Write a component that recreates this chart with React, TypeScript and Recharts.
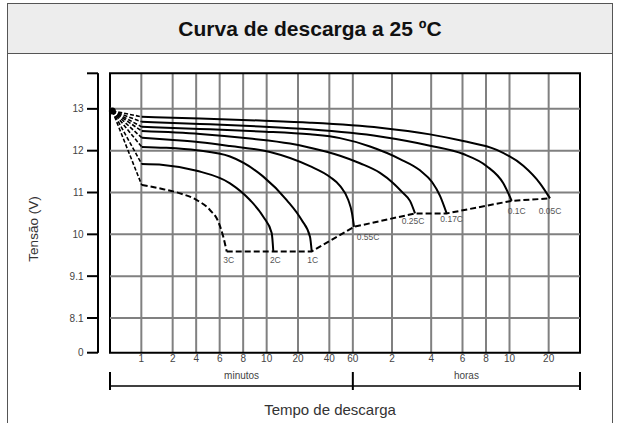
import React from 'react';
import {
  ComposedChart,
  Line,
  XAxis,
  YAxis,
  CartesianGrid,
  ReferenceLine,
  ReferenceArea,
  ReferenceDot,
  Scatter,
  Label,
} from 'recharts';

// ---------- axis definitions (grid units of the original drawing) ----------
const X_MIN = 0;
const X_MAX = 60;
const xTickGrid = [4, 8, 11, 14, 17, 20, 24, 28, 31, 36, 41, 45, 48, 51, 56];
const xTickLabels = ['1', '2', '4', '6', '8', '10', '20', '40', '60', '2', '4', '6', '8', '10', '20'];

const Y_MIN = 7.17;
const Y_MAX = 13.85;
const yTickValues = [Y_MIN, 8, 9, 10, 11, 12, 13, Y_MAX];
const yTickLabels = ['0', '8.1', '9.1', '10', '11', '12', '13', ''];
const yGridValues = [8, 9, 10, 11, 12, 13];

const spanBounds = [0, 31, 60];
const spanLabelAt = [16.8, 45.5];
const spanLabels = ['minutos', 'horas'];

// ---------- data ----------
const origin = { x: 0.3, y: 12.95 };

const c3C = [
  { x: 4.05, y: 11.18 }, { x: 6.8, y: 11.08 }, { x: 8.94, y: 10.98 }, { x: 11.07, y: 10.82 },
  { x: 12.77, y: 10.58 }, { x: 13.83, y: 10.3 }, { x: 14.46, y: 9.94 }, { x: 14.9, y: 9.59 },
];
const c2C = [
  { x: 4.05, y: 11.68 }, { x: 6.8, y: 11.66 }, { x: 11.07, y: 11.52 }, { x: 15.32, y: 11.22 },
  { x: 17.87, y: 10.82 }, { x: 19.57, y: 10.42 }, { x: 20.64, y: 10.03 }, { x: 20.85, y: 9.59 },
];
const c1C = [
  { x: 4.05, y: 12.09 }, { x: 7.02, y: 12.07 }, { x: 11.07, y: 12.01 }, { x: 15.32, y: 11.86 },
  { x: 19.57, y: 11.38 }, { x: 22.56, y: 10.82 }, { x: 24.47, y: 10.34 }, { x: 25.53, y: 9.94 },
  { x: 25.75, y: 9.59 },
];
const c055C = [
  { x: 4.05, y: 12.31 }, { x: 7.66, y: 12.26 }, { x: 11.49, y: 12.2 }, { x: 15.32, y: 12.11 },
  { x: 20.43, y: 11.97 }, { x: 25.53, y: 11.63 }, { x: 28.09, y: 11.37 }, { x: 29.36, y: 11.16 },
  { x: 30.42, y: 10.82 }, { x: 30.89, y: 10.51 }, { x: 31.15, y: 10.18 },
];
const c025C = [
  { x: 4.05, y: 12.47 }, { x: 11.49, y: 12.4 }, { x: 17.87, y: 12.29 }, { x: 22.98, y: 12.17 },
  { x: 25.53, y: 12.07 }, { x: 29.36, y: 11.88 }, { x: 31.91, y: 11.7 }, { x: 34.47, y: 11.47 },
  { x: 36.13, y: 11.23 }, { x: 37.4, y: 10.99 }, { x: 38.3, y: 10.8 }, { x: 38.94, y: 10.5 },
];
const c017C = [
  { x: 4.05, y: 12.57 }, { x: 11.49, y: 12.52 }, { x: 19.15, y: 12.46 }, { x: 25.53, y: 12.39 },
  { x: 29.36, y: 12.3 }, { x: 33.19, y: 12.1 }, { x: 37.02, y: 11.8 }, { x: 39.57, y: 11.53 },
  { x: 41.11, y: 11.25 }, { x: 42.13, y: 10.92 }, { x: 42.98, y: 10.5 },
];
const c01C = [
  { x: 4.05, y: 12.69 }, { x: 11.49, y: 12.64 }, { x: 19.15, y: 12.58 }, { x: 25.53, y: 12.51 },
  { x: 34.47, y: 12.34 }, { x: 40.85, y: 12.12 }, { x: 45.1, y: 11.92 }, { x: 48.09, y: 11.63 },
  { x: 50.21, y: 11.22 }, { x: 51.28, y: 10.8 },
];
const c005C = [
  { x: 4.05, y: 12.81 }, { x: 11.49, y: 12.77 }, { x: 19.15, y: 12.72 }, { x: 25.53, y: 12.67 },
  { x: 34.47, y: 12.55 }, { x: 40.85, y: 12.39 }, { x: 45.1, y: 12.23 }, { x: 49.37, y: 12.02 },
  { x: 52.76, y: 11.64 }, { x: 54.89, y: 11.22 }, { x: 56.17, y: 10.86 },
];

const curveNames = ['3C', '2C', '1C', '0.55C', '0.25C', '0.17C', '0.1C', '0.05C'];
const curveData = [c3C, c2C, c1C, c055C, c025C, c017C, c01C, c005C];

// ---------- styling ----------
const FONT = "'Liberation Sans', Arial, Helvetica, sans-serif";
const dashedCurves = ['3C'];
const labelOffset: Record<string, [number, number]> = {
  '3C': [2, 9], '2C': [2, 9], '1C': [1, 9], '0.55C': [14, 10],
  '0.25C': [-2, 8], '0.17C': [5, 6], '0.1C': [5, 10], '0.05C': [0, 13],
};
const PLOT_LEFT = 110;
const PLOT_RIGHT = 580;
const PX_PER_UNIT = (PLOT_RIGHT - PLOT_LEFT) / (X_MAX - X_MIN);

const endPoints = curveData.map((pts, i) => ({ ...pts[pts.length - 1], name: curveNames[i] }));

function SpanTick(props: any) {
  const { x, y, payload } = props;
  const v = payload.value;
  const bi = spanBounds.indexOf(v);
  if (bi >= 0) {
    return (
      <g>
        <line x1={x} x2={x} y1={y - 14} y2={y + 4} stroke="#000" strokeWidth={2} />
        {bi === 0 && (
          <line
            x1={x}
            x2={x + (spanBounds[spanBounds.length - 1] - v) * PX_PER_UNIT}
            y1={y}
            y2={y}
            stroke="#000"
            strokeWidth={1.6}
          />
        )}
      </g>
    );
  }
  const li = spanLabelAt.indexOf(v);
  return (
    <text x={x} y={y - 7} textAnchor="middle" fontSize={10} fill="#444" fontFamily={FONT}>
      {spanLabels[li]}
    </text>
  );
}

function EndLabel(props: any) {
  const { cx, cy, payload } = props;
  const [dx, dy] = labelOffset[payload.name] || [0, 9];
  return (
    <text
      x={cx + dx}
      y={cy + dy}
      textAnchor="middle"
      dominantBaseline="central"
      fontSize={8.5}
      fill="#555"
      fontFamily={FONT}
    >
      {payload.name}
    </text>
  );
}

export default function App() {
  return (
    <div
      style={{
        position: 'absolute',
        left: 0,
        top: 0,
        width: 620,
        height: 423,
        background: '#fff',
        overflow: 'hidden',
        fontFamily: FONT,
      }}
    >
      <div
        style={{
          position: 'absolute',
          left: 7,
          top: 3,
          width: 606,
          height: 440,
          border: '1.5px solid #555',
          boxSizing: 'border-box',
        }}
      />
      <div
        style={{
          position: 'absolute',
          left: 7,
          top: 3,
          width: 606,
          height: 51,
          background: '#ededed',
          border: '1.5px solid #555',
          boxSizing: 'border-box',
          display: 'flex',
          alignItems: 'center',
          justifyContent: 'center',
          fontWeight: 'bold',
          fontSize: 21,
          color: '#111',
        }}
      >
        Curva de descarga a 25 ºC
      </div>
      <div style={{ position: 'absolute', left: 0, top: 0 }}>
        <ComposedChart width={620} height={423} margin={{ top: 73.3, right: 40, bottom: 0, left: 20 }}>
          <CartesianGrid xAxisId="a" yAxisId="v" horizontal={false} stroke="#808080" strokeWidth={2} />
          <XAxis
            xAxisId="b"
            type="number"
            dataKey="x"
            domain={[X_MIN, X_MAX]}
            ticks={[...spanBounds, ...spanLabelAt].sort((p, q) => p - q)}
            interval={0}
            padding={{ left: 12, right: 0 }}
            axisLine={false}
            tickLine={false}
            tickSize={0}
            tickMargin={0}
            height={37}
            tick={<SpanTick />}
            allowDataOverflow
          >
            <Label
              content={(p: any) => (
                <text
                  x={p.viewBox.x + 232}
                  y={p.viewBox.y + 29}
                  textAnchor="middle"
                  fontSize={15}
                  fill="#333"
                  fontFamily={FONT}
                >
                  Tempo de descarga
                </text>
              )}
            />
          </XAxis>
          <XAxis
            xAxisId="a"
            type="number"
            dataKey="x"
            domain={[X_MIN, X_MAX]}
            ticks={xTickGrid}
            interval={0}
            padding={{ left: 12, right: 0 }}
            tickFormatter={(v: number) => xTickLabels[xTickGrid.indexOf(v)]}
            axisLine={false}
            tickLine={false}
            tickSize={0}
            tickMargin={2}
            height={33.3}
            tick={{ fill: '#444', fontSize: 10, fontFamily: FONT }}
            allowDataOverflow
          />
          <YAxis
            yAxisId="v"
            type="number"
            dataKey="y"
            domain={[Y_MIN, Y_MAX]}
            ticks={yTickValues}
            interval={0}
            width={78}
            tickFormatter={(v: number) => yTickLabels[yTickValues.indexOf(v)]}
            axisLine={{ stroke: '#000', strokeWidth: 2 }}
            tickLine={{ stroke: '#000', strokeWidth: 2 }}
            tickSize={11}
            tickMargin={3.5}
            tick={{ fill: '#444', fontSize: 10, fontFamily: FONT }}
            allowDataOverflow
          >
            <Label
              content={() => (
                <text
                  x={38}
                  y={229}
                  transform="rotate(-90 38 229)"
                  textAnchor="middle"
                  fontSize={13.5}
                  fill="#333"
                  fontFamily={FONT}
                >
                  Tensão (V)
                </text>
              )}
            />
          </YAxis>
          {yGridValues.map((v) => (
            <ReferenceLine
              key={'h' + v}
              xAxisId="a"
              yAxisId="v"
              segment={[{ x: X_MIN, y: v }, { x: X_MAX, y: v }]}
              stroke="#808080"
              strokeWidth={2}
            />
          ))}
          {/* invisible series that binds the span axis */}
          <Line
            xAxisId="b"
            yAxisId="v"
            data={endPoints}
            dataKey="y"
            stroke="none"
            dot={false}
            activeDot={false}
            isAnimationActive={false}
          />
          {curveData.map((pts, i) => (
            <Line
              key={'lead' + i}
              xAxisId="a"
              yAxisId="v"
              data={[origin, pts[0]]}
              dataKey="y"
              type="linear"
              stroke="#000"
              strokeWidth={1.6}
              strokeDasharray="4 2"
              dot={false}
              activeDot={false}
              isAnimationActive={false}
            />
          ))}
          {curveData.map((pts, i) => (
            <Line
              key={'c' + i}
              xAxisId="a"
              yAxisId="v"
              data={pts}
              dataKey="y"
              type="monotone"
              stroke="#000"
              strokeWidth={2}
              strokeDasharray={dashedCurves.includes(curveNames[i]) ? '6 3' : undefined}
              dot={false}
              activeDot={false}
              isAnimationActive={false}
            />
          ))}
          <Line
            xAxisId="a"
            yAxisId="v"
            data={endPoints}
            dataKey="y"
            type="linear"
            stroke="#000"
            strokeWidth={2}
            strokeDasharray="6 3"
            dot={false}
            activeDot={false}
            isAnimationActive={false}
          />
          <Scatter
            xAxisId="a"
            yAxisId="v"
            data={endPoints}
            dataKey="y"
            shape={<EndLabel />}
            isAnimationActive={false}
          />
          <ReferenceDot xAxisId="a" yAxisId="v" x={origin.x} y={origin.y} r={3.5} fill="#000" stroke="none" />
          <ReferenceArea
            xAxisId="a"
            yAxisId="v"
            x1={X_MIN}
            x2={X_MAX}
            y1={Y_MIN}
            y2={Y_MAX}
            fill="none"
            fillOpacity={0}
            stroke="#000"
            strokeWidth={2}
            strokeOpacity={1}
          />
        </ComposedChart>
      </div>
    </div>
  );
}
